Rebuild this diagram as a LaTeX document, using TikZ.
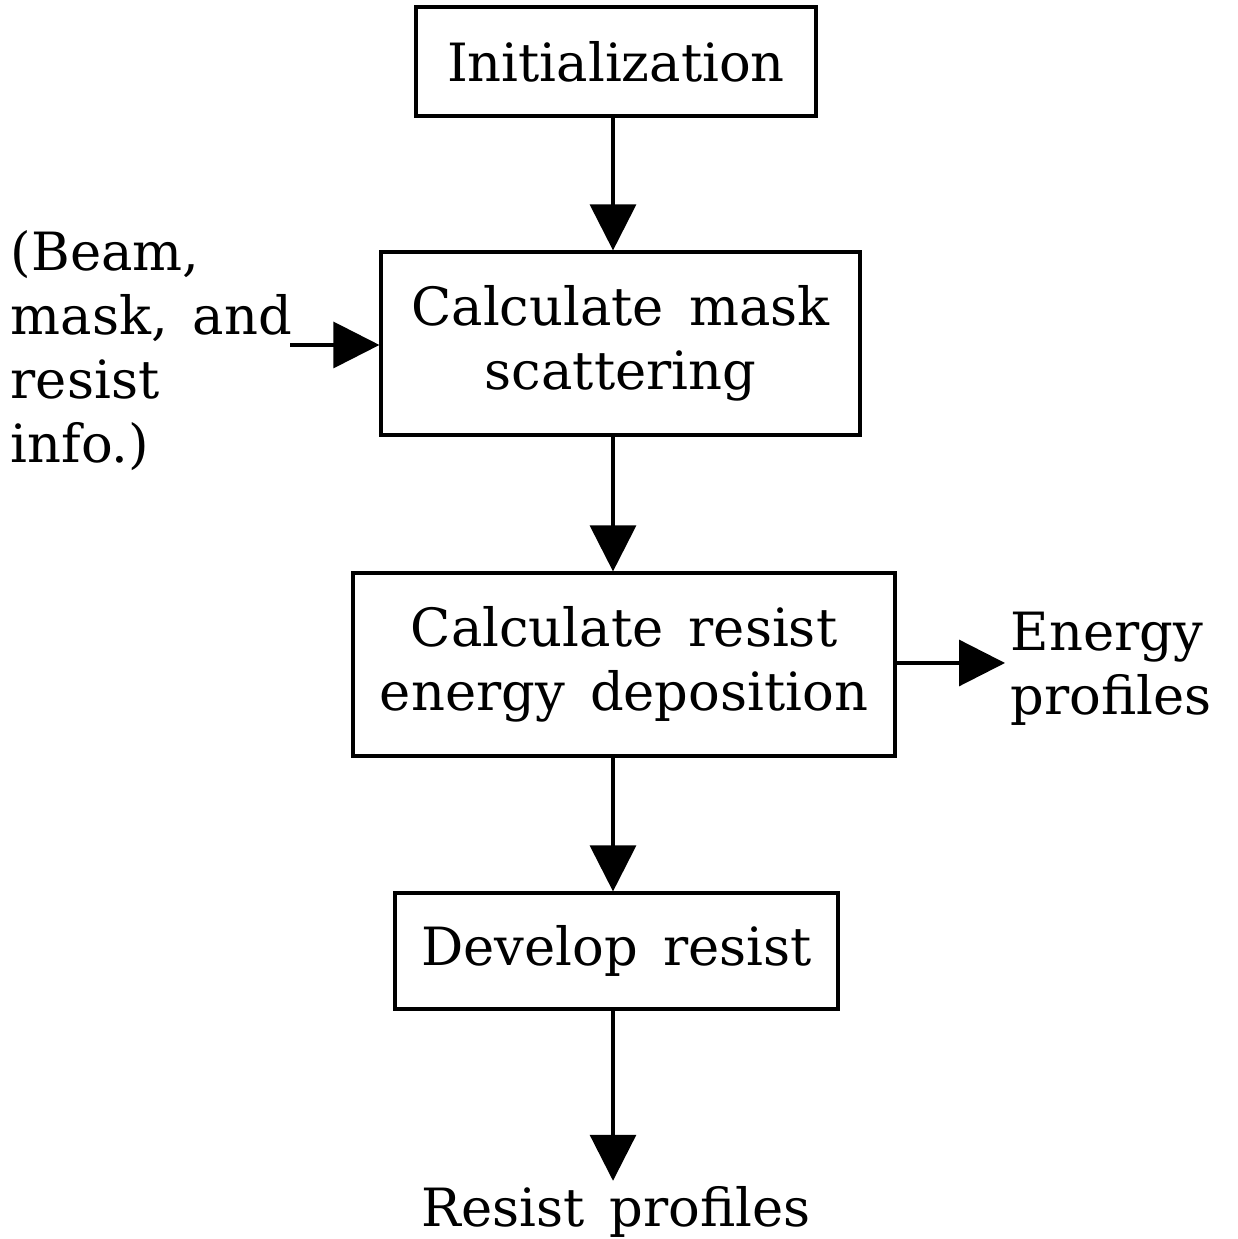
\documentclass[tikz,border=0pt]{standalone}
\usepackage{fontspec}
\setmainfont[WordSpace=1.5]{DejaVu Serif}
\usetikzlibrary{arrows.meta}

\tikzset{
  caja/.style={draw, line width=0.9pt, align=center, inner sep=0pt},
  flecha/.style={line width=0.9pt, -{Triangle[width=0.46cm,length=0.46cm]}},
  texto/.style={align=left, inner sep=0.05cm}
}

\begin{document}
\begin{tikzpicture}[font=\fontsize{15}{18.2}\selectfont]
\useasboundingbox (0,0) rectangle (12.37,12.39);

% Cajas
\node[caja, minimum width=4.00cm, minimum height=1.09cm] (init) at (6.16,11.775) {Initialization};
\node[caja, minimum width=4.79cm, minimum height=1.83cm] (mask) at (6.205,8.955) {Calculate mask\\scattering};
\node[caja, minimum width=5.42cm, minimum height=1.83cm] (energy) at (6.24,5.745) {Calculate resist\\energy deposition};
\node[caja, minimum width=4.43cm, minimum height=1.16cm] (develop) at (6.165,2.88) {Develop resist};

% Textos
\node[texto, anchor=west] (info) at (0.05,8.88) {(Beam,\\mask, and\\resist\\info.)};
\node[texto, anchor=west] (eprof) at (10.05,5.70) {Energy\\profiles};
\node[texto] (rprof) at (6.16,0.27) {Resist profiles};

% Flechas
\coordinate (eje) at (6.13,0);
\draw[flecha] (init.south -| eje) -- (mask.north -| eje);
\draw[flecha] (mask.south -| eje) -- (energy.north -| eje);
\draw[flecha] (energy.south -| eje) -- (develop.north -| eje);
\draw[flecha] (develop.south -| eje) -- (rprof.north -| eje);
\draw[flecha] (2.9,8.94) -- (mask.west |- 0,8.94);
\draw[flecha] (energy.east |- 0,5.76) -- (eprof.west |- 0,5.76);

\end{tikzpicture}
\end{document}
